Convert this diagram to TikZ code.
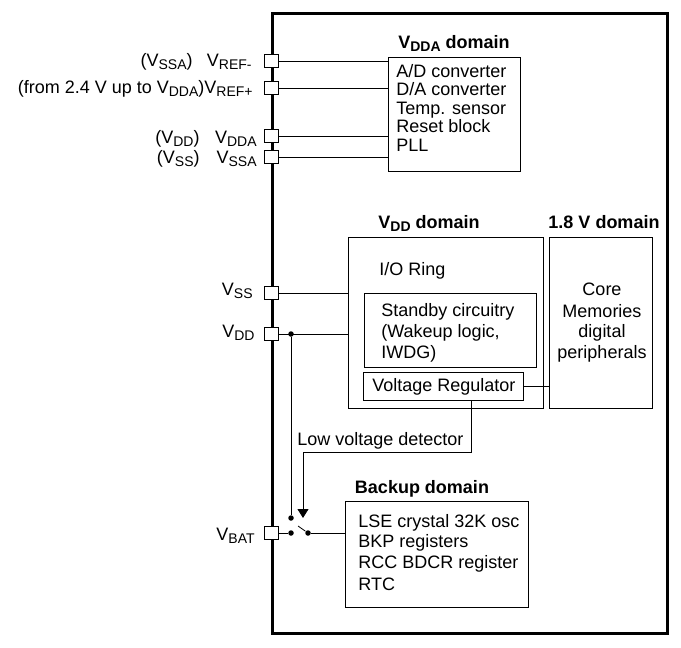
\documentclass[tikz,border=0pt]{standalone}
\usepackage{fontspec}
\setmainfont{Liberation Sans}
\usetikzlibrary{arrows.meta}
\newcommand\sbs[1]{\raisebox{-3pt}{\fontsize{14}{14}\selectfont #1}}
\begin{document}
\begin{tikzpicture}[x=1pt,y=-1pt, font=\fontsize{18}{21}\selectfont, line width=0.8pt,
  pad/.style={draw, fill=white, minimum size=13.5pt, inner sep=0pt, line width=0.9pt},
  box/.style={draw, line width=0.9pt, inner sep=0pt, anchor=north west},
  txt/.style={anchor=base west, inner sep=0pt},
  ctxt/.style={anchor=base, inner sep=0pt},
  lbl/.style={anchor=base east, inner sep=0pt},
  ttl/.style={anchor=base, inner sep=0pt, font=\fontsize{18}{21}\selectfont\bfseries},
  dot/.style={circle, fill, inner sep=0pt, minimum size=5.5pt}]
\useasboundingbox (0,0) rectangle (681,648);
% chip outline
\node[draw, line width=3pt, minimum width=395pt, minimum height=620pt, anchor=north west, inner sep=0pt] (chip) at (271,12) {};
% boxes
\node[box, minimum width=132pt, minimum height=114pt] (vdda) at (388,57) {};
\node[box, minimum width=195pt, minimum height=171pt] (vdd) at (348,237) {};
\node[box, minimum width=103pt, minimum height=171pt] (v18) at (549,237) {};
\node[box, minimum width=172pt, minimum height=74pt] (stby) at (364,293) {};
\node[box, minimum width=160pt, minimum height=28pt] (vr) at (363,372) {};
\node[box, minimum width=183pt, minimum height=106pt] (bk) at (345,501) {};
% pads
\node[pad] (pRm) at (271.5,61) {};
\node[pad] (pRp) at (271.5,88) {};
\node[pad] (pDA) at (271.5,136) {};
\node[pad] (pSA) at (271.5,157) {};
\node[pad] (pSS) at (271.5,293) {};
\node[pad] (pDD) at (271.5,334) {};
\node[pad] (pBT) at (271.5,533) {};
% connectors to VDDA box
\draw (pRm.east) -- (pRm.east -| vdda.west);
\draw (pRp.east) -- (pRp.east -| vdda.west);
\draw (pDA.east) -- (pDA.east -| vdda.west);
\draw (pSA.east) -- (pSA.east -| vdda.west);
% VSS, VDD
\draw (pSS.east) -- (pSS.east -| vdd.west);
\draw (pDD.east) -- (pDD.east -| vdd.west);
\node[dot] (d1) at (291,334) {};
% switch
\node[dot] (s1) at (291,518) {};
\node[dot] (s2) at (291,533) {};
\node[dot] (s3) at (308,533) {};
\coordinate (bl) at (298,526);
\draw (d1) -- (s1);
\draw (pBT.east) -- (s2);
\draw (bl) -- (s3);
\draw (s3) -- (s3 -| bk.west);
% regulator to 1.8V
\draw (vr.east) -- (vr.east -| v18.west);
% low voltage detector
\coordinate (c1) at (471,452);
\coordinate (c2) at (303,452);
\coordinate (atip) at (303,518);
\draw[-{Triangle[width=11pt,length=9pt]}] (vr.south -| c1) -- (c1) -- (c2) -- (atip);
\node[txt] (lvd) at (297,445) {Low voltage detector};
% left labels
\node[lbl] (lRm) at (252,66) {V\sbs{REF-}};
\node[lbl] (lRm2) at (193,66) {(V\sbs{SSA})};
\node[lbl] (lRp) at (253,93) {(from 2.4 V up to V\sbs{DDA})V\sbs{REF+}};
\node[lbl] (lDA) at (257,143) {V\sbs{DDA}};
\node[lbl] (lDA2) at (200,143) {(V\sbs{DD})};
\node[lbl] (lSA) at (257,163) {V\sbs{SSA}};
\node[lbl] (lSA2) at (200,163) {(V\sbs{SS})};
\node[lbl] (lSS) at (253,295) {V\sbs{SS}};
\node[lbl] (lDD) at (255,337) {V\sbs{DD}};
\node[lbl] (lBT) at (255,540) {V\sbs{BAT}};
% titles
\node[ttl] (tA) at (454,48) {V\sbs{DDA} domain};
\node[ttl] (tD) at (429,228) {V\sbs{DD} domain};
\node[ttl] (t18) at (604,228) {1.8 V domain};
\node[ttl] (tB) at (422,493) {Backup domain};
% VDDA box text
\node[txt] (a1) at (396,77) {A/D converter};
\node[txt] (a2) at (396,95) {D/A converter};
\node[txt] (a3) at (396,114) {Temp. sensor};
\node[txt] (a4) at (396,132) {Reset block};
\node[txt] (a5) at (396,151) {PLL};
% VDD box text
\node[txt] (io) at (379,275) {I/O Ring};
\node[txt] (b1) at (381,316) {Standby circuitry};
\node[txt] (b2) at (381,337) {(Wakeup logic,};
\node[txt] (b3) at (381,358) {IWDG)};
\node[txt] (vrt) at (372,391) {Voltage Regulator};
% 1.8 V text
\node[ctxt] (c_1) at (602,295) {Core};
\node[ctxt] (c_2) at (602,317) {Memories};
\node[ctxt] (c_3) at (602,337) {digital};
\node[ctxt] (c_4) at (602,358) {peripherals};
% backup text
\node[txt] (k1) at (358,527) {LSE crystal 32K osc};
\node[txt] (k2) at (358,547) {BKP registers};
\node[txt] (k3) at (358,568) {RCC BDCR register};
\node[txt] (k4) at (358,590) {RTC};
\end{tikzpicture}
\end{document}
